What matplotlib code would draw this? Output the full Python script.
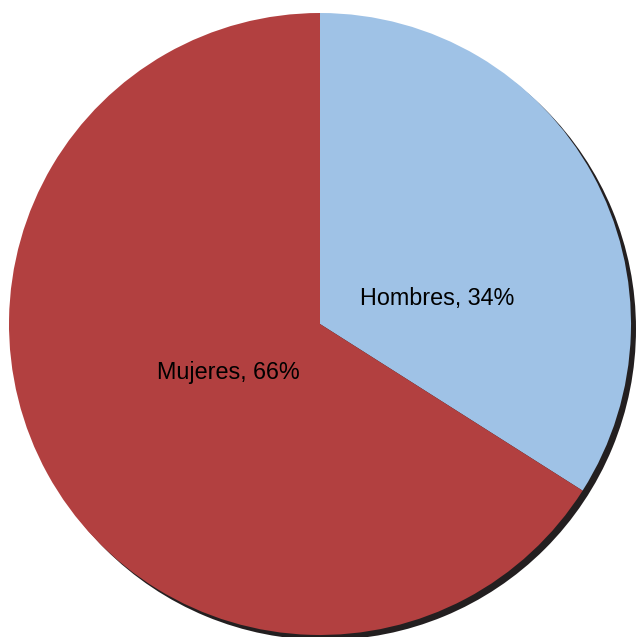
import matplotlib.pyplot as plt

labels = ['Hombres', 'Mujeres']
values = [34, 66]
colors = ['#9FC2E6', '#B24040']

W, H = 636, 637
fig = plt.figure(figsize=(W / 100, H / 100), dpi=100)
ax = fig.add_axes([0, 0, 1, 1])

cx, cy, r = 320, H - 324, 311

# shadow
ax.pie([1], colors=['#231F20'], center=(cx + 5, cy - 5), radius=r,
       wedgeprops=dict(linewidth=0), frame=True)

wedges, texts = ax.pie(values, colors=colors, center=(cx, cy), radius=r,
                       startangle=90, counterclock=False,
                       wedgeprops=dict(linewidth=0), frame=True)

ax.set_xlim(0, W)
ax.set_ylim(0, H)
ax.set_aspect('equal')
ax.axis('off')

ax.text(cx + 117, cy + 25, f'{labels[0]}, {values[0]}%', ha='center', va='center',
        fontsize=16.8, family='Liberation Sans', color='black')
ax.text(cx - 92, cy - 48, f'{labels[1]}, {values[1]}%', ha='center', va='center',
        fontsize=16.8, family='Liberation Sans', color='black')

fig.savefig('out.png', dpi=100)
